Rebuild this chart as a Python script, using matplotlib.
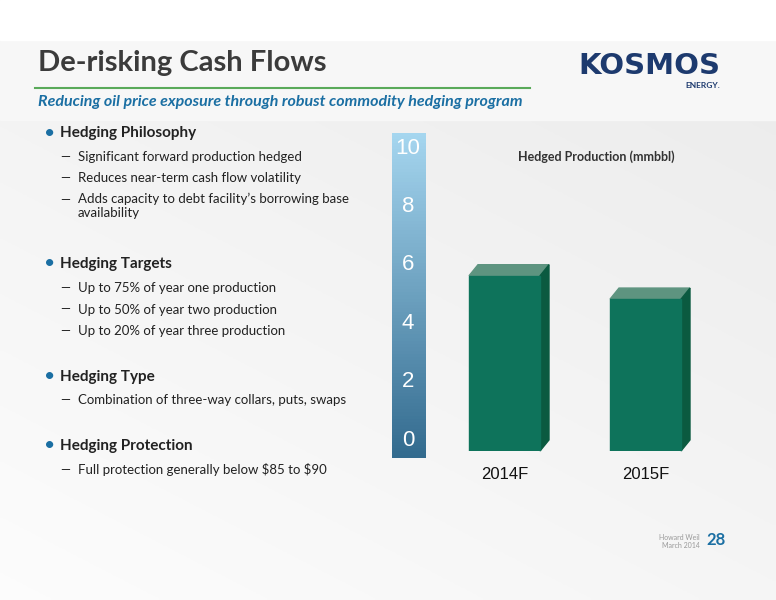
import numpy as np
import matplotlib.pyplot as plt
from matplotlib.patches import Polygon, Rectangle

# chart data
years = ['2014F', '2015F']
hedged = [6.0, 5.2]
y_ticks = [0, 2, 4, 6, 8, 10]

bullets = [
    ('Hedging Philosophy', ['Significant forward production hedged',
                            'Reduces near-term cash flow volatility',
                            'Adds capacity to debt facility\u2019s borrowing base\navailability']),
    ('Hedging Targets', ['Up to 75% of year one production',
                         'Up to 50% of year two production',
                         'Up to 20% of year three production']),
    ('Hedging Type', ['Combination of three-way collars, puts, swaps']),
    ('Hedging Protection', [r'Full protection generally below \$85 to \$90']),
]

W, H = 776, 600
fig = plt.figure(figsize=(7.76, 6), dpi=100)
plt.rcParams['font.family'] = ['Lato', 'DejaVu Sans']

def fy(y):
    return 1 - y / H

def fx(x):
    return x / W

# background gradient
bg = fig.add_axes([0, 0, 1, 1])
g = np.linspace(0, 1, 200)
xx, yy = np.meshgrid(g, g)
shade = 0.99 - 0.07 * np.clip((xx * 0.4 + (1 - yy) * 0.6), 0, 1)
bg.imshow(np.dstack([shade, shade, shade]), extent=[0, 1, 0, 1], aspect='auto')
bg.axhspan(fy(120), 1, color='#f7f7f7')
bg.axhspan(fy(40), 1, color='white')
bg.set_xlim(0, 1)
bg.set_ylim(0, 1)
bg.axis('off')
bg.plot([fx(35), fx(530)], [fy(88), fy(88)], color='#5aaa5a', lw=1.5)

fig.text(fx(38), fy(63), 'De-risking Cash Flows', fontsize=21, weight='bold', color='#3b3b3b', va='center')
fig.text(fx(38), fy(102), 'Reducing oil price exposure through robust commodity hedging program',
         fontsize=11.5, weight='bold', style='italic', color='#1b6fa3', va='center')
fig.text(fx(720), fy(66), 'KOSMOS', fontsize=21, weight='black', color='#1d3a6e',
         ha='right', va='center', family=['DejaVu Sans'])
fig.text(fx(720), fy(85), 'ENERGY.', fontsize=6, weight='bold', color='#1d3a6e', ha='right', va='center')

# bullets
y = 133
for head, subs in bullets:
    fig.text(fx(44), fy(y), '\u2022', fontsize=14, color='#1b6fa3', va='center')
    fig.text(fx(60), fy(y), head, fontsize=11, weight='bold', color='#222222', va='center')
    y += 24
    for s in subs:
        fig.text(fx(60), fy(y), '\u2014', fontsize=9, color='#222222', va='center')
        multi = '\n' in s
        fig.text(fx(78), fy(y - 7) if multi else fy(y), s, fontsize=9.5, color='#222222',
                 va='top' if multi else 'center', linespacing=1.2)
        y += 40 if multi else 21.5
    y += 24

# blue scale bar
bar_ax = fig.add_axes([fx(392), fy(458), fx(425) - fx(392), fy(133) - fy(458)])
grad = np.linspace(0, 1, 100)[:, None]
c_top = np.array([0.65, 0.84, 0.94])
c_bot = np.array([0.20, 0.42, 0.56])
img = c_top * (1 - grad[:, :, None]) + c_bot * grad[:, :, None]
bar_ax.imshow(np.repeat(img, 2, axis=1), aspect='auto')
bar_ax.axis('off')

# main chart axes (0 at y=451px, 10 at y=159px)
ax = fig.add_axes([fx(440), fy(451), fx(720) - fx(440), fy(159) - fy(451)])
ax.set_xlim(0, 2.8)
ax.set_ylim(0, 10)
ax.axis('off')
x0 = [0.29, 1.7]
bw = 0.71
dx, dy = 0.09, 0.38
for xs, v in zip(x0, hedged):
    ax.add_patch(Polygon([(xs, v), (xs + dx, v + dy), (xs + bw + dx, v + dy), (xs + bw, v)],
                         closed=True, color='#5e9480', clip_on=False))
    ax.add_patch(Polygon([(xs + bw, 0), (xs + bw + dx, dy), (xs + bw + dx, v + dy), (xs + bw, v)],
                         closed=True, color='#0b5a40', clip_on=False))
    ax.add_patch(Rectangle((xs, 0), bw, v, color='#0e735b'))
for xs, lab in zip(x0, years):
    ax.text(xs + bw / 2, -0.55, lab, ha='center', va='top', fontsize=12,
            family=['Liberation Sans', 'DejaVu Sans'], color='#111111')
for t in y_ticks:
    fig.text(fx(408), fy(440 - t * 29.2), str(t), ha='center', va='center', fontsize=16,
             family=['Liberation Sans', 'DejaVu Sans'], color='white')
fig.text(fx(596), fy(157), 'Hedged Production (mmbbl)', ha='center', va='center',
         fontsize=9, weight='bold', color='#333333')

# footer
fig.text(fx(700), fy(537), 'Howard Weil', fontsize=5, color='#999999', ha='right', va='center')
fig.text(fx(700), fy(545), 'March 2014', fontsize=5, color='#999999', ha='right', va='center')
fig.text(fx(706), fy(540), '28', fontsize=12, color='#1b6fa3', weight='bold', va='center')

fig.savefig('out.png', dpi=100)
